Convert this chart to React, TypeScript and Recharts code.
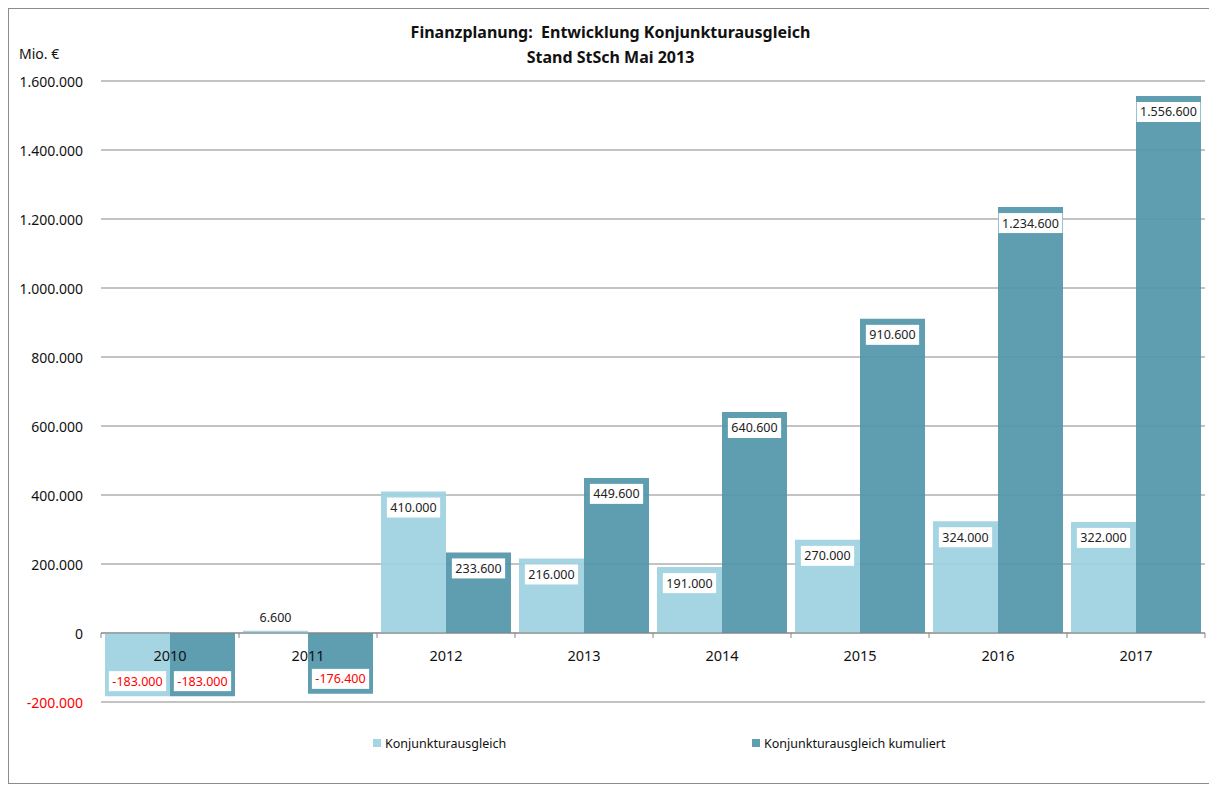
import React from 'react';
import { BarChart, Bar, XAxis, YAxis, CartesianGrid, ReferenceLine, LabelList } from 'recharts';

const years = ['2010', '2011', '2012', '2013', '2014', '2015', '2016', '2017'];
const konjunktur = [-183000, 6600, 410000, 216000, 191000, 270000, 324000, 322000];
const kumuliert = [-183000, -176400, 233600, 449600, 640600, 910600, 1234600, 1556600];
const yTicks = [-200000, 0, 200000, 400000, 600000, 800000, 1000000, 1200000, 1400000, 1600000];
const seriesNames = ['Konjunkturausgleich', 'Konjunkturausgleich kumuliert'];
const titleLines = ['Finanzplanung:  Entwicklung Konjunkturausgleich', 'Stand StSch Mai 2013'];
const unitLabel = 'Mio. €';

const LIGHT = '#9ed2e0';
const DARK = '#5297aa';
const LIGHT_SWATCH = '#a5d5e2';
const DARK_SWATCH = '#5e9eb0';
const GRID = '#878787';
const FONT = '"Noto Sans", sans-serif';

const data = years.map((y, i) => ({ year: y, k: konjunktur[i], c: kumuliert[i] }));

const Y_MIN = yTicks[0];
const Y_MAX = yTicks[yTicks.length - 1];

const CHART_W = 1203;
const CHART_H = 774;
const MARGIN = { top: 72, right: 7, bottom: 51, left: 0 };
const X_AXIS_H = 30;
const Y_AXIS_W = 92;
const PLOT_H = CHART_H - MARGIN.top - MARGIN.bottom - X_AXIS_H;
const PLOT_W = CHART_W - MARGIN.left - MARGIN.right - Y_AXIS_W;
const ZERO_SHIFT = (PLOT_H * (0 - Y_MIN)) / (Y_MAX - Y_MIN);

function fmt(v: number): string {
  const s = Math.abs(v).toString().replace(/\B(?=(\d{3})+(?!\d))/g, '.');
  return (v < 0 ? '-' : '') + s;
}

function textWidth(s: string, size: number): number {
  let w = 0;
  for (const ch of s) {
    if (ch === '.') w += 0.268;
    else if (ch === '-') w += 0.322;
    else w += 0.572;
  }
  return w * size;
}

const ValueLabel = (props: any) => {
  const { x, y, width, height, value } = props;
  const top = Math.min(y, y + height);
  const bottom = Math.max(y, y + height);
  const h = bottom - top;
  const text = fmt(value);
  const fs = 12.5;
  const tw = textWidth(text, fs) + 7;
  const cx = x + width / 2;
  if (h < 30) {
    return (
      <text x={cx} y={top - 9} textAnchor="middle" fontSize={fs} fontFamily={FONT} fill="#222">
        {text}
      </text>
    );
  }
  const boxH = 20;
  const boxTop = value >= 0 ? top + 6 : bottom - 5 - boxH;
  return (
    <g>
      <rect x={cx - tw / 2} y={boxTop} width={tw} height={boxH} fill="#ffffff" />
      <text
        x={cx}
        y={boxTop + 14.5}
        textAnchor="middle"
        fontSize={fs}
        fontFamily={FONT}
        fill={value < 0 ? '#ff0000' : '#222'}
      >
        {text}
      </text>
    </g>
  );
};

const XTick = (props: any) => {
  const { x, y, payload, index } = props;
  const zeroY = y - ZERO_SHIFT;
  const band = PLOT_W / years.length;
  return (
    <g>
      <line x1={x - band / 2} x2={x - band / 2} y1={zeroY} y2={zeroY + 5} stroke={GRID} />
      {index === years.length - 1 && (
        <line x1={x + band / 2} x2={x + band / 2} y1={zeroY} y2={zeroY + 5} stroke={GRID} />
      )}
      <text x={x} y={zeroY + 28} textAnchor="middle" fontSize={14.5} fontFamily={FONT} fill="#111">
        {payload.value}
      </text>
    </g>
  );
};

const YTick = (props: any) => {
  const { x, y, payload } = props;
  return (
    <text
      x={x}
      y={y}
      textAnchor="end"
      dominantBaseline="central"
      fontSize={14}
      fontFamily={FONT}
      fill={payload.value < 0 ? '#ff0000' : '#111'}
    >
      {fmt(payload.value)}
    </text>
  );
};

export default function App() {
  const legendItems = [
    { name: seriesNames[0], color: LIGHT_SWATCH, left: 364 },
    { name: seriesNames[1], color: DARK_SWATCH, left: 743 },
  ];
  return (
    <div
      style={{
        position: 'relative',
        width: 1205,
        height: 776,
        border: '1px solid #8c8c8c',
        boxSizing: 'border-box',
        background: '#fff',
        fontFamily: FONT,
      }}
    >
      <div
        style={{
          position: 'absolute',
          left: 0,
          right: 0,
          top: 11,
          textAlign: 'center',
          fontWeight: 'bold',
          fontSize: 16,
          lineHeight: '25px',
          color: '#111',
        }}
      >
        {titleLines.map((t) => (
          <div key={t} style={{ whiteSpace: 'pre' }}>{t}</div>
        ))}
      </div>
      <div style={{ position: 'absolute', left: 10, top: 35, fontSize: 14, color: '#111' }}>{unitLabel}</div>
      <div style={{ position: 'absolute', left: 0, top: 0 }}>
        <BarChart
          width={CHART_W}
          height={CHART_H}
          data={data}
          margin={MARGIN}
          barCategoryGap={4}
          barGap={0}
        >
          <CartesianGrid vertical={false} stroke={GRID} />
          <XAxis
            dataKey="year"
            height={X_AXIS_H}
            axisLine={false}
            tickLine={false}
            tickSize={0}
            tickMargin={0}
            interval={0}
            tick={<XTick />}
          />
          <YAxis
            width={Y_AXIS_W}
            domain={[Y_MIN, Y_MAX]}
            ticks={yTicks}
            axisLine={false}
            tickLine={false}
            tickSize={0}
            tickMargin={18}
            interval={0}
            tick={<YTick />}
          />
          <ReferenceLine y={0} stroke={GRID} />
          <Bar dataKey="k" name={seriesNames[0]} fill={LIGHT} fillOpacity={0.93} isAnimationActive={false}>
            <LabelList dataKey="k" content={<ValueLabel />} />
          </Bar>
          <Bar dataKey="c" name={seriesNames[1]} fill={DARK} fillOpacity={0.93} isAnimationActive={false}>
            <LabelList dataKey="c" content={<ValueLabel />} />
          </Bar>
        </BarChart>
      </div>
      {legendItems.map((it) => (
        <div
          key={it.name}
          style={{
            position: 'absolute',
            left: it.left,
            top: 725,
            height: 18,
            display: 'flex',
            alignItems: 'center',
            fontSize: 12.5,
            color: '#111',
          }}
        >
          <span style={{ width: 8, height: 8, background: it.color, marginRight: 4, display: 'inline-block' }} />
          {it.name}
        </div>
      ))}
    </div>
  );
}
